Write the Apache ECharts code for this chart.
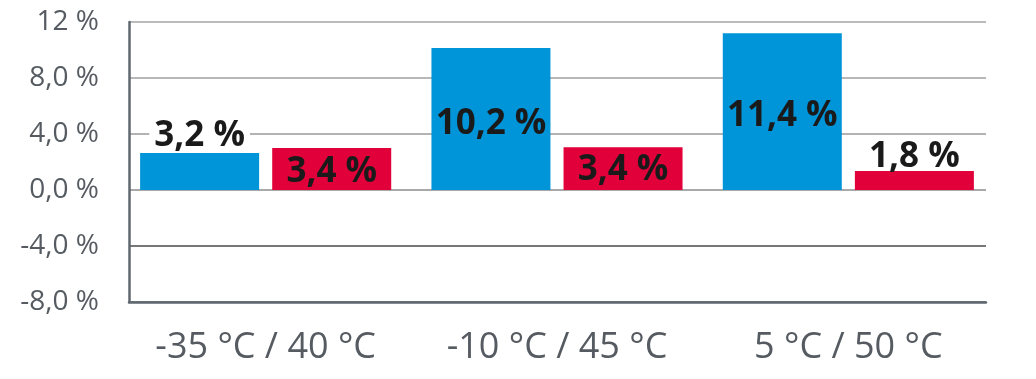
<!DOCTYPE html>
<html>
<head>
<meta charset="utf-8">
<script src="https://cdn.jsdelivr.net/npm/echarts@6/dist/echarts.min.js"></script>
<style>
html,body{margin:0;padding:0;background:#fff;}
#c{width:1036px;height:379px;}
</style>
</head>
<body>
<div id="c"></div>
<script>
const categories = ['-35 °C / 40 °C', '-10 °C / 45 °C', '5 °C / 50 °C'];
const blueValues = [2.65, 10.15, 11.2];
const redValues = [3.0, 3.05, 1.35];
const blueLabels = ['3,2 %', '10,2 %', '11,4 %'];
const redLabels = ['3,4 %', '3,4 %', '1,8 %'];
const yTickValues = [-8, -4, 0, 4, 8, 12];
const yTickLabels = ['-8,0 %', '-4,0 %', '0,0 %', '4,0 %', '8,0 %', '12 %'];

const chart = echarts.init(document.getElementById('c'), null, {renderer: 'canvas'});

const labelBase = {
  show: true,
  fontFamily: 'Open Sans',
  fontWeight: 'bold',
  fontSize: 35,
  color: '#1a1a1a'
};
const bluePos = [
  {position: 'top', distance: 2, lineHeight: 30, backgroundColor: '#fff', padding: [0, 5, 0, 5]},
  {position: 'inside', offset: [0, 5]},
  {position: 'inside', offset: [0, 4]}
];
const redPos = [
  {position: 'inside', offset: [0, 3]},
  {position: 'inside', offset: [0, 1]},
  {position: 'top', distance: -3}
];
function buildItems(values, labels, pos) {
  return values.map((v, i) => ({
    value: v,
    label: Object.assign({}, labelBase, pos[i], {formatter: () => labels[i]})
  }));
}

const yMin = yTickValues[0], yMax = yTickValues[yTickValues.length - 1];
const fontColor = '#555b61';

chart.setOption({
  animation: false,
  grid: [
    {left: 129, right: 50, top: 22, bottom: 77},
    {left: 120, right: 42, top: 22, bottom: 77}
  ],
  xAxis: [
    {
      gridIndex: 0, type: 'category', data: categories,
      axisLine: {show: true, onZero: false, lineStyle: {color: '#5f676f', width: 2.5}},
      axisTick: {show: false}, axisLabel: {show: false}, splitLine: {show: false}
    },
    {
      gridIndex: 1, type: 'category', data: categories,
      axisLine: {show: false}, axisTick: {show: false},
      axisLabel: {show: true, fontFamily: 'Open Sans', fontSize: 36, color: fontColor, margin: 28}
    }
  ],
  yAxis: [
    {
      gridIndex: 0, type: 'value', min: yMin, max: yMax, interval: 4,
      axisLine: {show: true, lineStyle: {color: '#5f676f', width: 2.5}},
      axisTick: {show: false},
      axisLabel: {
        fontFamily: 'Open Sans', fontSize: 28, color: fontColor, margin: 30,
        formatter: v => yTickLabels[yTickValues.indexOf(v)]
      },
      splitLine: {
        show: true,
        lineStyle: {color: ['#5f676f', '#474a4d', '#8c8c8c', '#9a9a9a', '#a0a0a0', '#a5a5a5'], width: 1.6}
      }
    },
    {
      gridIndex: 1, type: 'value', min: yMin, max: yMax, interval: 4,
      axisLine: {show: false}, axisTick: {show: false}, axisLabel: {show: false}, splitLine: {show: false}
    }
  ],
  series: [
    {
      type: 'bar', xAxisIndex: 1, yAxisIndex: 1,
      barWidth: 119, barGap: '11%',
      itemStyle: {color: '#0094d8'},
      data: buildItems(blueValues, blueLabels, bluePos)
    },
    {
      type: 'bar', xAxisIndex: 1, yAxisIndex: 1,
      barWidth: 119, barGap: '11%',
      itemStyle: {color: '#e2003a'},
      data: buildItems(redValues, redLabels, redPos)
    }
  ]
});
</script>
</body>
</html>
